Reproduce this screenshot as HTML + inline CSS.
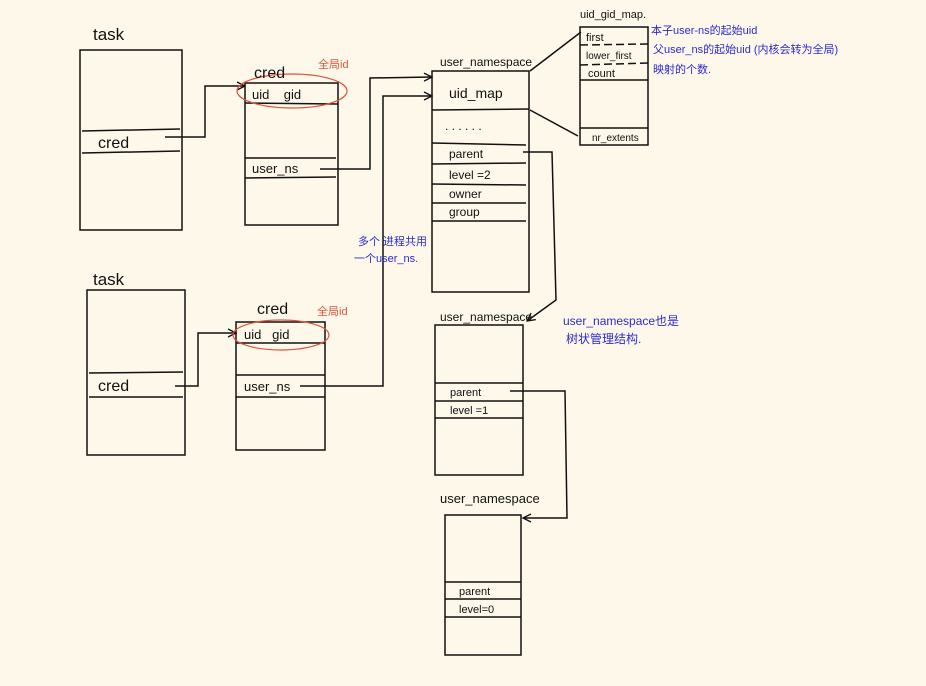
<!DOCTYPE html>
<html><head><meta charset="utf-8"><style>
html,body{margin:0;padding:0;background:#fdf8ea;}
svg{display:block}
text{font-family:"Liberation Sans","Noto Sans CJK SC",sans-serif;}
</style></head><body>
<svg width="926" height="686" viewBox="0 0 926 686" xmlns="http://www.w3.org/2000/svg">
<rect width="926" height="686" fill="#fdf8ea"/>
<defs><marker id="a" markerWidth="10" markerHeight="10" refX="9" refY="5" orient="auto" markerUnits="userSpaceOnUse"><path d="M1,1 L9,5 L1,9" fill="none" stroke="#111" stroke-width="1.3"/></marker></defs>
<g stroke="#111" stroke-width="1.5" fill="none">
<rect x="80" y="50" width="102" height="180"/>
<line x1="82" y1="131" x2="180" y2="129"/><line x1="82" y1="153" x2="180" y2="151"/>
<polyline points="165,137 205,137 205,86 245,86" marker-end="url(#a)"/>
<rect x="245" y="83" width="93" height="142"/>
<line x1="245" y1="103" x2="338" y2="104"/><line x1="245" y1="158" x2="336" y2="158"/><line x1="245" y1="178" x2="336" y2="177"/>
<ellipse cx="292" cy="91" rx="55" ry="17" stroke="#e0533a" stroke-width="1.2"/>
<polyline points="320,169 370,169 370,78 432,77" marker-end="url(#a)"/>
<polyline points="300,386 383,386 383,96 432,96" marker-end="url(#a)"/>
<rect x="432" y="71" width="97" height="221"/>
<line x1="432" y1="110" x2="529" y2="109"/>
<line x1="432" y1="143" x2="526" y2="145"/><line x1="432" y1="164" x2="526" y2="163"/><line x1="432" y1="184" x2="526" y2="185"/><line x1="432" y1="203" x2="526" y2="203"/><line x1="432" y1="221" x2="526" y2="221"/>
<line x1="530" y1="71" x2="581" y2="32"/><line x1="530" y1="110" x2="578" y2="136"/>
<polyline points="523,152 552,152 556,300 527,321" marker-end="url(#a)"/>
<rect x="580" y="27" width="68" height="118"/>
<line x1="580" y1="45" x2="648" y2="44" stroke-dasharray="8,4"/><line x1="580" y1="65" x2="648" y2="63" stroke-dasharray="8,4"/><line x1="580" y1="80" x2="648" y2="80"/><line x1="580" y1="128" x2="648" y2="128"/>
<rect x="87" y="290" width="98" height="165"/>
<line x1="89" y1="373" x2="183" y2="372"/><line x1="89" y1="397" x2="183" y2="397"/>
<polyline points="175,386 198,386 198,333 236,333" marker-end="url(#a)"/>
<rect x="236" y="322" width="89" height="128"/>
<line x1="236" y1="343" x2="325" y2="343"/><line x1="236" y1="375" x2="325" y2="375"/><line x1="236" y1="397" x2="325" y2="397"/>
<ellipse cx="281" cy="335" rx="48" ry="15" stroke="#e0533a" stroke-width="1.2"/>
<rect x="435" y="325" width="88" height="150"/>
<line x1="435" y1="383" x2="523" y2="383"/><line x1="435" y1="401" x2="523" y2="401"/><line x1="435" y1="418" x2="523" y2="418"/>
<polyline points="510,391 565,391 567,518 523,518" marker-end="url(#a)"/>
<rect x="445" y="515" width="76" height="140"/>
<line x1="445" y1="582" x2="521" y2="582"/><line x1="445" y1="599" x2="521" y2="599"/><line x1="445" y1="617" x2="521" y2="617"/>
</g>
<g fill="#111">
<text x="93" y="40" font-size="17">task</text>
<text x="98" y="148" font-size="16">cred</text>
<text x="254" y="78" font-size="16">cred</text>
<text x="252" y="99" font-size="13">uid&#160;&#160;&#160;&#160;gid</text>
<text x="252" y="173" font-size="13">user_ns</text>
<text x="440" y="66" font-size="12">user_namespace</text>
<text x="449" y="98" font-size="14">uid_map</text>
<text x="445" y="130" font-size="12">. . . . . .</text>
<text x="449" y="158" font-size="12">parent</text>
<text x="449" y="179" font-size="12">level =2</text>
<text x="449" y="198" font-size="12">owner</text>
<text x="449" y="216" font-size="12">group</text>
<text x="580" y="18" font-size="11">uid_gid_map.</text>
<text x="586" y="41" font-size="11">first</text>
<text x="586" y="59" font-size="10">lower_first</text>
<text x="588" y="77" font-size="11">count</text>
<text x="592" y="141" font-size="10">nr_extents</text>
<text x="93" y="285" font-size="17">task</text>
<text x="98" y="391" font-size="16">cred</text>
<text x="257" y="314" font-size="16">cred</text>
<text x="244" y="339" font-size="13">uid&#160;&#160;&#160;gid</text>
<text x="244" y="391" font-size="13">user_ns</text>
<text x="440" y="321" font-size="12">user_namespace</text>
<text x="450" y="396" font-size="11">parent</text>
<text x="450" y="414" font-size="11">level =1</text>
<text x="440" y="503" font-size="13">user_namespace</text>
<text x="459" y="595" font-size="11">parent</text>
<text x="459" y="613" font-size="11">level=0</text>
</g>
<g fill="#e0533a" font-size="11"><text x="318" y="68">全局id</text><text x="317" y="315">全局id</text></g>
<g fill="#2a2ad0" font-size="11">
<text x="651" y="34">本子user-ns的起始uid</text>
<text x="653" y="53">父user_ns的起始uid (内核会转为全局)</text>
<text x="653" y="73">映射的个数.</text>
<text x="358" y="245">多个 进程共用</text>
<text x="354" y="262">一个user_ns.</text>
<text x="563" y="325" font-size="12">user_namespace也是</text>
<text x="566" y="343" font-size="12">树状管理结构.</text>
</g>
</svg>
</body></html>
